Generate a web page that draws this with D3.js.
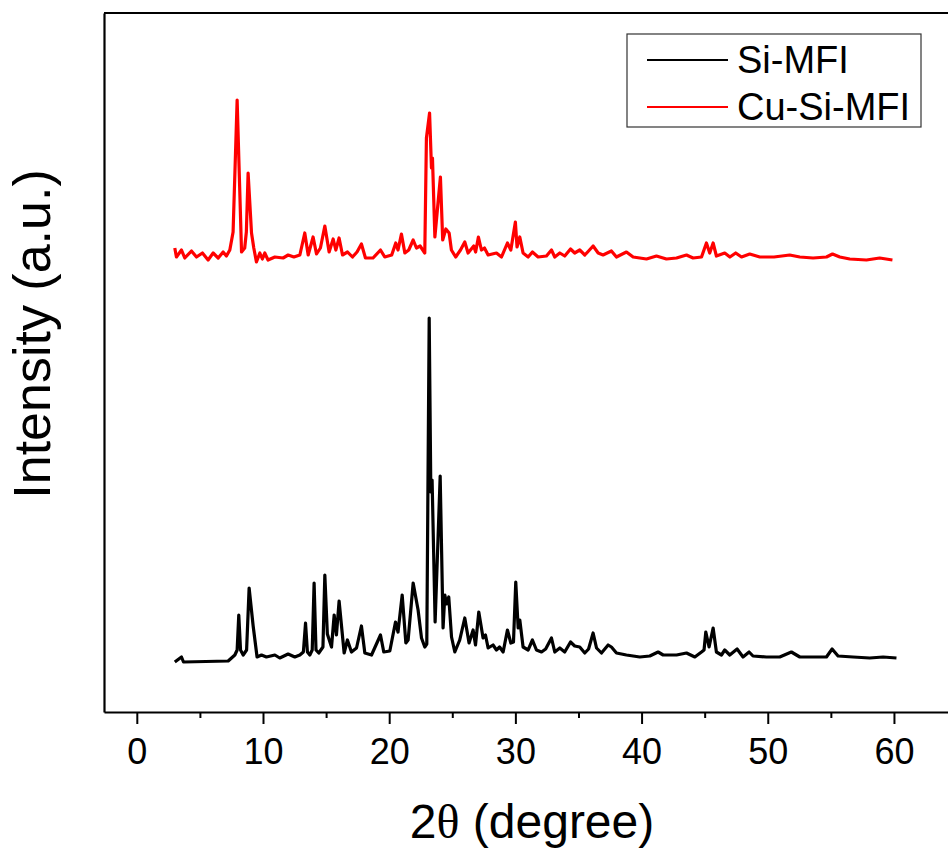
<!DOCTYPE html>
<html>
<head>
<meta charset="utf-8">
<script src="https://cdn.jsdelivr.net/npm/d3@7"></script>
<style>
  body { margin: 0; background: #fff; }
  text { font-family: "Liberation Sans", Arial, sans-serif; }
</style>
</head>
<body>
<div id="chart"></div>
<script>
// Si-MFI pattern (2theta, intensity a.u.)
const siTheta = [3.01,3.54,3.70,7.24,7.77,7.95,8.08,8.22,8.43,8.70,8.90,9.22,9.53,9.88,10.27,10.94,11.33,11.99,12.52,12.92,13.20,13.37,13.52,13.71,13.90,14.05,14.20,14.42,14.75,14.90,15.10,15.43,15.64,15.82,16.03,16.43,16.69,17.01,17.41,17.80,18.07,18.60,19.31,19.57,20.05,20.50,20.70,21.03,21.32,21.50,21.90,22.29,22.56,22.82,22.98,23.17,23.30,23.40,23.64,23.83,24.04,24.27,24.41,24.55,24.72,24.94,25.20,25.59,25.99,26.33,26.65,26.84,27.10,27.44,27.63,27.84,28.23,28.50,28.75,29.03,29.37,29.64,29.85,30.03,30.22,30.35,30.61,31.01,31.35,31.67,32.07,32.40,32.86,33.12,33.52,33.91,34.37,34.70,35.10,35.50,35.80,36.16,36.43,36.82,37.35,37.61,38.01,38.80,39.86,40.65,41.31,41.71,42.77,43.56,44.22,44.75,44.95,45.09,45.35,45.67,45.93,46.33,46.59,46.99,47.57,48.04,48.52,48.83,49.89,50.95,51.87,52.54,53.59,54.65,55.10,55.57,56.76,58.08,59.14,60.20];
const siIntensity = [50,55,50,51,57,62,97,62,57,62,124,86,55,57,55,57,54,58,55,57,60,89,60,57,62,129,62,59,65,137,78,65,97,77,111,59,72,60,64,86,59,57,77,60,61,90,80,117,69,72,129,102,74,65,68,394,220,232,90,159,236,84,117,108,115,75,60,72,94,69,82,67,100,74,77,64,67,62,65,60,82,69,70,130,84,92,65,62,72,62,60,63,74,60,64,60,70,66,65,59,63,79,64,59,67,65,59,57,55,56,60,57,57,59,55,60,62,80,65,84,60,57,62,57,63,55,60,56,55,55,60,55,55,55,63,56,55,54,55,54];

// Cu-Si-MFI pattern (2theta, intensity a.u.), plotted with an offset
const cuTheta = [3.01,3.14,3.54,3.80,4.33,4.73,5.20,5.65,6.05,6.45,6.84,7.10,7.37,7.63,7.95,8.30,8.55,8.68,8.82,9.09,9.27,9.48,9.75,9.95,10.14,10.40,10.94,11.59,11.99,12.45,12.92,13.31,13.58,13.97,14.24,14.55,14.90,15.24,15.56,15.77,16.03,16.30,16.70,17.09,17.45,17.80,18.12,18.72,19.31,19.65,20.20,20.52,20.70,20.97,21.24,21.55,21.90,22.16,22.45,22.82,22.95,23.20,23.35,23.43,23.62,24.06,24.24,24.49,24.75,24.93,25.27,25.65,25.99,26.25,26.70,26.85,27.07,27.31,27.55,27.84,28.50,28.90,29.37,29.64,30.00,30.13,30.35,30.61,31.01,31.35,31.80,32.46,32.86,33.12,33.52,33.91,34.37,34.70,35.10,35.50,35.80,36.16,36.56,36.95,37.61,38.01,38.80,39.33,40.39,41.18,41.97,42.77,43.56,44.08,44.75,45.14,45.40,45.67,45.93,46.59,47.00,47.46,47.92,48.57,49.37,50.50,51.74,52.54,53.59,54.65,55.13,55.71,56.50,57.82,58.87,59.88];
const cuIntensity = [64,55,62,54,61,55,59,52,59,54,60,56,62,80,212,60,64,80,139,79,64,50,59,53,59,52,55,54,57,55,57,79,57,75,58,64,86,60,73,62,74,57,60,55,60,68,54,54,62,55,57,69,62,78,59,62,72,64,66,59,174,199,144,154,75,135,72,83,79,62,55,62,70,59,66,60,75,62,64,57,59,55,69,62,90,65,75,59,55,60,55,56,62,55,59,56,63,59,62,57,61,66,59,57,61,55,60,55,53,56,53,54,57,54,55,69,59,69,56,59,55,59,55,58,55,55,57,55,54,55,58,55,53,52,54,52];

const seriesNames = ["Si-MFI", "Cu-Si-MFI"];
const seriesColors = ["#000000", "#ff0000"];
const seriesOffsets = [0, 400];
const majorTicks = [0, 10, 20, 30, 40, 50, 60];
const minorTicks = [5, 15, 25, 35, 45, 55];

const W = 948, H = 850;
const margin = {top: 13, right: -4, bottom: 138, left: 104};

const svg = d3.select("#chart").append("svg")
    .attr("width", W)
    .attr("height", H);

const x = d3.scaleLinear()
    .domain([-2.6, 64.6])
    .range([margin.left, W - margin.right]);

const y = d3.scaleLinear()
    .domain([0, 699])
    .range([H - margin.bottom, margin.top]);

const series = [
    siTheta.map((t, i) => [t, siIntensity[i] + seriesOffsets[0]]),
    cuTheta.map((t, i) => [t, cuIntensity[i] + seriesOffsets[1]])
];

const line = d3.line()
    .x(d => x(d[0]))
    .y(d => y(d[1]));

svg.append("g")
    .selectAll("path")
    .data(series)
    .enter().append("path")
        .attr("d", line)
        .attr("fill", "none")
        .attr("stroke", (d, i) => seriesColors[i])
        .attr("stroke-width", 3.2)
        .attr("stroke-linejoin", "round");

// bottom axis, major + minor ticks
const xAxis = svg.append("g")
    .attr("transform", `translate(0, ${y(0)})`)
    .call(d3.axisBottom(x).tickValues(majorTicks).tickSize(12).tickPadding(14).tickSizeOuter(0))
    .call(g => g.select(".domain").attr("stroke-width", 2.2));
xAxis.selectAll(".tick line").attr("stroke-width", 2);
xAxis.selectAll(".tick text")
    .attr("font-size", 36)
    .attr("font-family", "Liberation Sans, Arial, sans-serif")
    .attr("fill", "#000");

svg.append("g")
    .attr("transform", `translate(0, ${y(0)})`)
    .call(d3.axisBottom(x).tickValues(minorTicks).tickSize(6).tickFormat("").tickSizeOuter(0))
    .call(g => g.select(".domain").remove())
    .selectAll(".tick line").attr("stroke-width", 2);

// left axis (no ticks) and top border
svg.append("g")
    .attr("transform", `translate(${margin.left}, 0)`)
    .call(d3.axisLeft(y).ticks(0).tickSizeOuter(0))
    .select(".domain").attr("stroke-width", 2.2);

svg.append("line")
    .attr("x1", margin.left).attr("x2", W - margin.right)
    .attr("y1", y(699)).attr("y2", y(699))
    .attr("stroke", "#000")
    .attr("stroke-width", 2.2);

// axis titles
svg.append("text")
    .attr("transform", `translate(50, 334) rotate(-90)`)
    .attr("text-anchor", "middle")
    .attr("font-size", 52)
    .text("Intensity (a.u.)");

const xt = svg.append("text")
    .attr("x", 532)
    .attr("y", 838)
    .attr("text-anchor", "middle")
    .attr("font-size", 48);
xt.append("tspan").text("2");
xt.append("tspan").attr("font-family", "Liberation Serif, Times New Roman, serif").text("θ");
xt.append("tspan").text(" (degree)");

// legend
const legend = svg.append("g").attr("transform", "translate(627, 34)");
legend.append("rect")
    .attr("width", 294)
    .attr("height", 93)
    .attr("fill", "#fff")
    .attr("stroke", "#333")
    .attr("stroke-width", 1.2);

const item = legend.selectAll("g.item")
    .data(seriesNames)
    .enter().append("g")
        .attr("class", "item")
        .attr("transform", (d, i) => `translate(0, ${26 + i * 47})`);

item.append("line")
    .attr("x1", 20).attr("x2", 101)
    .attr("stroke", (d, i) => seriesColors[i])
    .attr("stroke-width", 2);

item.append("text")
    .attr("x", 110)
    .attr("y", 13)
    .attr("font-size", 38)
    .text(d => d);
</script>
</body>
</html>
